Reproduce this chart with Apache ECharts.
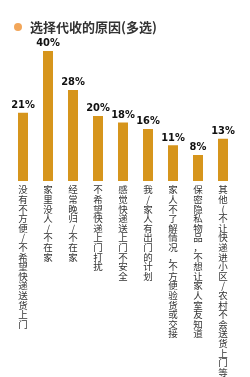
<!DOCTYPE html>
<html><head><meta charset="utf-8">
<script src="https://cdn.jsdelivr.net/npm/echarts@6/dist/echarts.min.js"></script>
<style>html,body{margin:0;padding:0;background:#fff}#c{width:250px;height:377px}</style>
</head><body><div id="c"></div>
<script>
var title = "选择代收的原因(多选)";
var categories = ["没有不方便/不希望快递送货上门","家里没人/不在家","经常晚归/不在家","不希望快递上门打扰","感觉快递送上门不安全","我/家人有出门的计划","家人不了解情况，不方便验货或交接","保密隐私物品，不想让家人室友知道","其他(不让快递进小区/农村不会送货上门等"];
var values = [21,40,28,20,18,16,11,8,13];

var chart = echarts.init(document.getElementById('c'));
chart.setOption({
  animation:false,
  backgroundColor:'#fff',
  title:{text:title,left:25,top:16,textStyle:{fontSize:13,fontWeight:'bold',color:'#333',fontFamily:'Noto Sans CJK SC'}},
  graphic:[{type:'circle',shape:{cx:18,cy:27,r:4},style:{fill:'#f2a65a'}}],
  grid:{left:10.5,right:14.5,top:51,bottom:193},
  xAxis:{type:'category',data:categories,axisLine:{show:false},axisTick:{show:false},
    axisLabel:{interval:0,margin:4,fontSize:9.5,lineHeight:9.6,color:'#333',fontFamily:'Noto Sans CJK SC',
      formatter:function(v){return v.split('').join('\n');}}},
  yAxis:{type:'value',min:0,max:40,show:false,splitLine:{show:false}},
  series:[{type:'bar',data:values,barWidth:10,itemStyle:{color:'#d6951c'},
    label:{show:true,position:'top',distance:2,formatter:'{c}%',fontSize:11,fontWeight:'bold',color:'#111',fontFamily:'DejaVu Sans Condensed'}}]
});
</script></body></html>
